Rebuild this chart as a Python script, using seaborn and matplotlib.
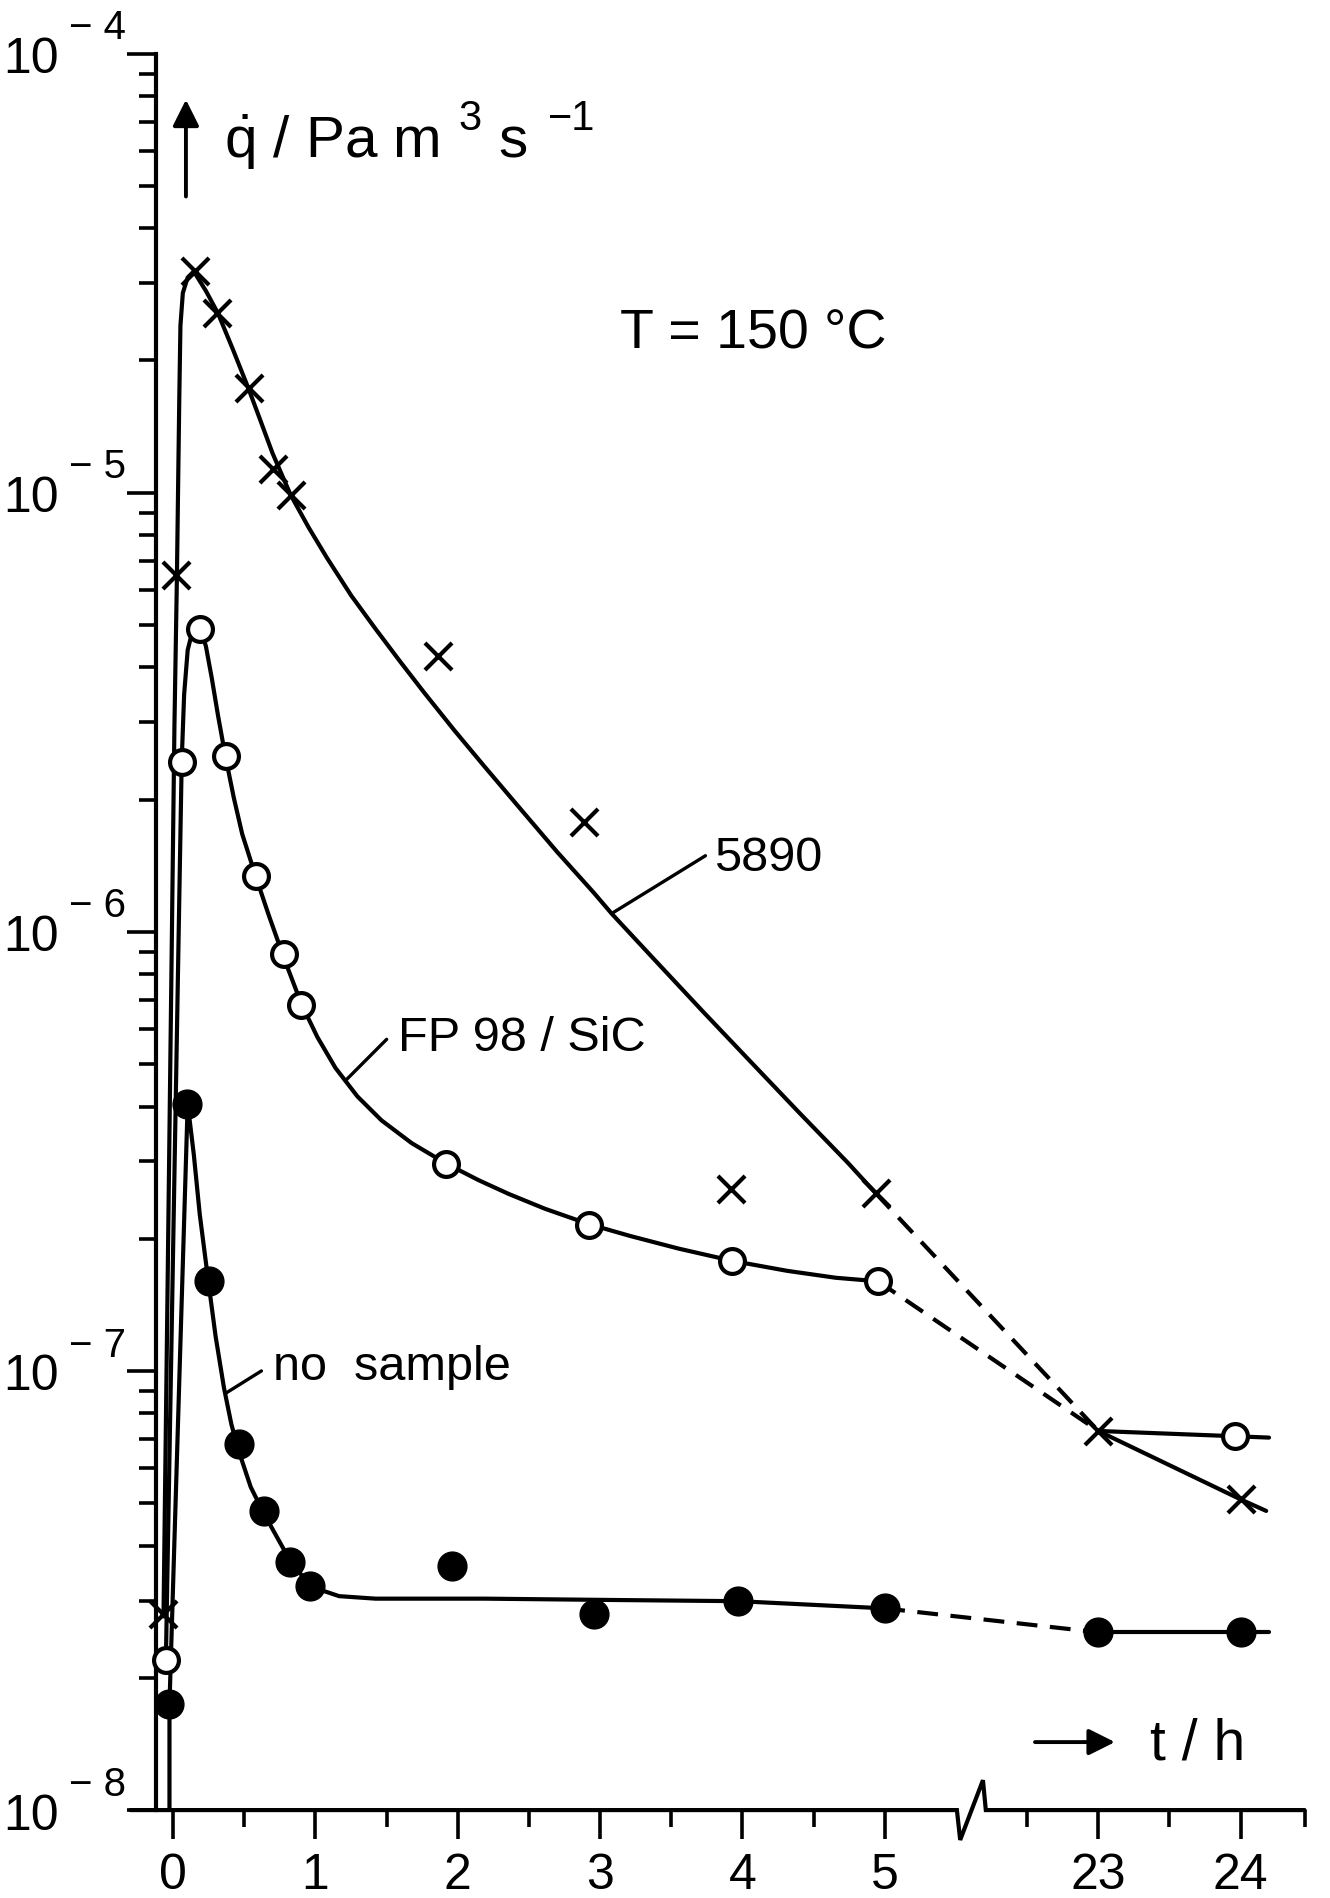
import numpy as np
import seaborn as sns
import matplotlib.pyplot as plt
from matplotlib.ticker import FixedLocator, LogLocator, NullFormatter

# =========================
# DATA
# =========================

# time axis is broken between 5 h and 23 h
break_at = 5.6
break_shift = 16.5

# measured points: t / h, q / Pa m^3 s^-1
t_5890 = [-0.07, 0.02, 0.15, 0.31, 0.53, 0.70, 0.83, 1.86, 2.89, 3.92, 4.94, 23.0, 24.0]
q_5890 = [2.8e-8, 6.5e-6, 3.2e-5, 2.56e-5, 1.73e-5, 1.13e-5, 9.9e-6, 4.25e-6, 1.78e-6,
          2.6e-7, 2.54e-7, 7.3e-8, 5.1e-8]

t_fp98 = [-0.05, 0.06, 0.19, 0.37, 0.58, 0.78, 0.90, 1.92, 2.92, 3.93, 4.95, 23.96]
q_fp98 = [2.2e-8, 2.44e-6, 4.9e-6, 2.52e-6, 1.34e-6, 8.9e-7, 6.8e-7, 2.96e-7, 2.15e-7,
          1.78e-7, 1.6e-7, 7.1e-8]

t_none = [-0.03, 0.10, 0.25, 0.46, 0.64, 0.82, 0.96, 1.96, 2.96, 3.97, 5.0, 23.0, 24.0]
q_none = [1.74e-8, 4.06e-7, 1.6e-7, 6.8e-8, 4.8e-8, 3.67e-8, 3.24e-8, 3.6e-8, 2.8e-8,
          3.0e-8, 2.88e-8, 2.54e-8, 2.54e-8]

# hand drawn curves
curve_5890_t = [-0.068, -0.043, -0.017, 0.009, 0.026, 0.043, 0.051, 0.068, 0.102, 0.145,
                0.230, 0.315, 0.417, 0.528, 0.613, 0.698, 0.826, 0.953, 1.081, 1.251,
                1.421, 1.591, 1.762, 1.974, 2.187, 2.443, 2.698, 2.953, 3.081, 3.379,
                3.719, 4.060, 4.400, 4.740, 4.936]
curve_5890_q = [2.76e-8, 1.24e-7, 6.05e-7, 2.96e-6, 6.34e-6, 1.64e-5, 2.40e-5, 2.85e-5,
                3.09e-5, 3.19e-5, 2.88e-5, 2.56e-5, 2.13e-5, 1.73e-5, 1.46e-5, 1.23e-5,
                9.87e-6, 8.32e-6, 7.10e-6, 5.83e-6, 4.90e-6, 4.14e-6, 3.51e-6, 2.88e-6,
                2.38e-6, 1.90e-6, 1.52e-6, 1.23e-6, 1.10e-6, 8.66e-7, 6.60e-7, 5.05e-7,
                3.87e-7, 2.98e-7, 2.54e-7]
dash_5890_t = [4.936, 23.0]
dash_5890_q = [2.54e-7, 7.3e-8]
tail_5890_t = [23.0, 24.0, 24.18]
tail_5890_q = [7.3e-8, 5.1e-8, 4.8e-8]

curve_fp98_t = [-0.051, 0.060, 0.077, 0.102, 0.136, 0.187, 0.230, 0.272, 0.315, 0.366,
                0.426, 0.485, 0.579, 0.672, 0.783, 0.902, 1.013, 1.140, 1.294, 1.464,
                1.677, 1.915, 2.145, 2.357, 2.613, 2.919, 3.209, 3.549, 3.932, 4.315,
                4.655, 4.953]
curve_fp98_q = [2.21e-8, 2.45e-6, 3.47e-6, 4.38e-6, 4.85e-6, 4.95e-6, 4.47e-6, 3.77e-6,
                3.11e-6, 2.52e-6, 2.02e-6, 1.67e-6, 1.34e-6, 1.09e-6, 8.63e-7, 6.84e-7,
                5.76e-7, 4.90e-7, 4.22e-7, 3.72e-7, 3.30e-7, 2.97e-7, 2.72e-7, 2.53e-7,
                2.34e-7, 2.16e-7, 2.03e-7, 1.90e-7, 1.78e-7, 1.69e-7, 1.63e-7, 1.60e-7]
dash_fp98_t = [4.953, 23.0]
dash_fp98_q = [1.6e-7, 7.3e-8]
tail_fp98_t = [23.0, 23.96, 24.2]
tail_fp98_q = [7.3e-8, 7.1e-8, 7.05e-8]

curve_none_t = [-0.026, -0.026, 0.102, 0.145, 0.187, 0.247, 0.298, 0.357, 0.409, 0.460,
                0.545, 0.638, 0.723, 0.817, 0.911, 1.013, 1.166, 1.421, 2.187, 3.038,
                3.974, 4.996]
curve_none_q = [1.0e-8, 1.74e-8, 4.06e-7, 3.11e-7, 2.27e-7, 1.60e-7, 1.20e-7, 9.15e-8,
                7.56e-8, 6.58e-8, 5.44e-8, 4.73e-8, 4.22e-8, 3.72e-8, 3.40e-8, 3.19e-8,
                3.07e-8, 3.03e-8, 3.03e-8, 3.01e-8, 2.99e-8, 2.88e-8]
dash_none_t = [4.996, 23.0]
dash_none_q = [2.88e-8, 2.54e-8]
tail_none_t = [23.0, 24.2]
tail_none_q = [2.54e-8, 2.54e-8]

# curve labels: text anchor and leader line (t, q)
labels = ["5890", "FP 98 / SiC", "no  sample"]
label_t = [3.80, 1.58, 0.70]
label_q = [1.38e-6, 5.37e-7, 9.57e-8]
leader_from_t = [3.08, 1.21, 0.37]
leader_from_q = [1.10e-6, 4.58e-7, 8.9e-8]
leader_to_t = [3.74, 1.50, 0.62]
leader_to_q = [1.49e-6, 5.69e-7, 1.0e-7]

x_major_hours = [0, 1, 2, 3, 4, 5, 23, 24]
x_minor_hours = [0.5, 1.5, 2.5, 3.5, 4.5, 22.5, 23.5, 24.45]
y_exponents = [-8, -7, -6, -5, -4]


def to_axis(t):
    # squeeze the 5 h ... 23 h gap out of the axis
    t = np.asarray(t, dtype=float)
    return np.where(t > break_at, t - break_shift, t)


# =========================
# STYLE
# =========================

sns.set_theme(style="white")
plt.rcParams["font.family"] = ["Liberation Sans", "DejaVu Sans"]
plt.rcParams["mathtext.default"] = "regular"
plt.rcParams["mathtext.fontset"] = "custom"
plt.rcParams["mathtext.rm"] = "Liberation Sans"
plt.rcParams["text.color"] = "black"
plt.rcParams["xtick.color"] = "black"
plt.rcParams["ytick.color"] = "black"

LW = 3.0
fig = plt.figure(figsize=(13.3, 18.99), dpi=100)
ax = fig.add_axes([0.0981, 0.0463, 0.8828, 0.9250])


# =========================
# CURVES
# =========================

def draw(t, q, dashed=False):
    ls = (0, (5, 3)) if dashed else "-"
    sns.lineplot(x=to_axis(t), y=q, sort=False, estimator=None, color="black",
                 linewidth=LW, linestyle=ls, ax=ax, zorder=2)


for t, q in [(curve_5890_t, curve_5890_q), (tail_5890_t, tail_5890_q),
             (curve_fp98_t, curve_fp98_q), (tail_fp98_t, tail_fp98_q),
             (curve_none_t, curve_none_q), (tail_none_t, tail_none_q)]:
    draw(t, q)
for t, q in [(dash_5890_t, dash_5890_q), (dash_fp98_t, dash_fp98_q),
             (dash_none_t, dash_none_q)]:
    draw(t, q, dashed=True)

sns.scatterplot(x=to_axis(t_5890), y=q_5890, marker="x", s=380, color="black",
                linewidth=3.0, ax=ax, zorder=4)
sns.scatterplot(x=to_axis(t_fp98), y=q_fp98, marker="o", s=320, facecolor="white",
                edgecolor="black", linewidth=3.0, ax=ax, zorder=4)
sns.scatterplot(x=to_axis(t_none), y=q_none, marker="o", s=430, color="black",
                edgecolor="black", linewidth=1, ax=ax, zorder=4)

for i, txt in enumerate(labels):
    ax.annotate("", xy=(to_axis(leader_from_t[i]), leader_from_q[i]),
                xytext=(to_axis(leader_to_t[i]), leader_to_q[i]),
                arrowprops=dict(arrowstyle="-", lw=2.4, color="black",
                                shrinkA=0, shrinkB=0))
    ax.text(to_axis(label_t[i]), label_q[i], txt, fontsize=35, va="baseline",
            ha="left", color="black")


# =========================
# AXES
# =========================

ax.set_yscale("log")
ax.set_ylim(1e-8, 1e-4)
ax.set_xlim(-0.3, 7.95)
ax.set_xlabel("")
ax.set_ylabel("")

spine_x = -0.12
for side in ["top", "right", "bottom"]:
    ax.spines[side].set_visible(False)
ax.spines["left"].set_position(("data", spine_x))
ax.spines["left"].set_linewidth(LW)
ax.spines["left"].set_color("black")

ax.xaxis.set_major_locator(FixedLocator(to_axis(x_major_hours)))
ax.xaxis.set_minor_locator(FixedLocator(to_axis(x_minor_hours)))
ax.set_xticklabels([str(h) for h in x_major_hours])

ax.yaxis.set_major_locator(FixedLocator([10.0 ** e for e in y_exponents]))
ax.yaxis.set_minor_locator(LogLocator(base=10, subs=np.arange(2, 10)))
ax.yaxis.set_minor_formatter(NullFormatter())
ax.set_yticklabels([""] * len(y_exponents))

ax.tick_params(axis="both", which="both", bottom=True, left=True, direction="out",
               width=2.6, color="black")
ax.tick_params(axis="both", which="major", length=21)
ax.tick_params(axis="both", which="minor", length=12)
ax.tick_params(axis="x", labelsize=36, pad=9, labelcolor="black")

# y tick labels written as 10 with a raised exponent
for e in y_exponents:
    ax.annotate("10", xy=(spine_x, 10.0 ** e), xytext=(-70, -4), textcoords="offset points",
                ha="right", va="center", fontsize=36, annotation_clip=False)
    ax.annotate("\u2212 %d" % (-e), xy=(spine_x, 10.0 ** e), xytext=(-63, 19),
                textcoords="offset points", ha="left", va="center", fontsize=29,
                annotation_clip=False)

# bottom axis line with the break mark
trans = ax.get_xaxis_transform()
ax.plot([-0.3, 5.507, 5.53, 5.69, 5.71, 7.95], [0, 0, -0.017, 0.017, 0, 0],
        transform=trans, clip_on=False, color="black", lw=LW, solid_joinstyle="miter")

# axis titles with arrows
ax.annotate("", xy=(0.1398, 0.9470), xytext=(0.1398, 0.8960), xycoords="figure fraction",
            textcoords="figure fraction",
            arrowprops=dict(arrowstyle="-|>", lw=2.8, color="black", mutation_scale=40,
                            shrinkA=0, shrinkB=0))
fig.text(0.1684, 0.9170, r"$\dot{q}$ / Pa m", fontsize=42, va="baseline")
fig.text(0.3444, 0.9318, "3", fontsize=30, va="baseline")
fig.text(0.3744, 0.9170, "s", fontsize=42, va="baseline")
fig.text(0.4120, 0.9318, "\u22121", fontsize=30, va="baseline")

fig.text(0.4662, 0.8167, "T = 150 \u00b0C", fontsize=40, va="baseline")

ax.annotate("", xy=(0.8383, 0.0821), xytext=(0.7782, 0.0821), xycoords="figure fraction",
            textcoords="figure fraction",
            arrowprops=dict(arrowstyle="-|>", lw=2.8, color="black", mutation_scale=40,
                            shrinkA=0, shrinkB=0))
fig.text(0.8647, 0.0732, "t / h", fontsize=41, va="baseline")

fig.savefig("out.png", dpi=100, facecolor="white")
